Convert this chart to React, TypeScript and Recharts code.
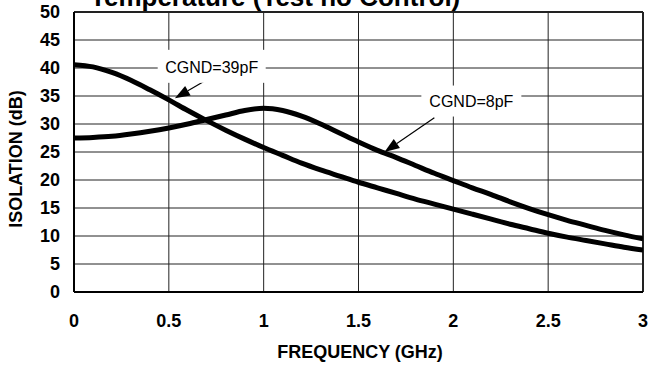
import React from 'react';
import {
  ComposedChart,
  Line,
  XAxis,
  YAxis,
  CartesianGrid,
  ReferenceLine,
  ReferenceDot,
  Customized,
} from 'recharts';

const freq = [0, 0.1, 0.2, 0.3, 0.4, 0.5, 0.6, 0.7, 0.8, 0.9, 1.0, 1.1, 1.2, 1.3, 1.4, 1.5, 1.6, 1.7, 1.8, 1.9, 2.0, 2.1, 2.2, 2.3, 2.4, 2.5, 2.6, 2.7, 2.8, 2.9, 3.0];
const cgnd39 = [40.6, 40.2, 39.2, 37.8, 36.1, 34.3, 32.4, 30.6, 28.9, 27.3, 25.8, 24.4, 23.0, 21.8, 20.7, 19.6, 18.6, 17.6, 16.6, 15.7, 14.8, 13.9, 13.0, 12.1, 11.3, 10.5, 9.8, 9.2, 8.6, 8.0, 7.5];
const cgnd8 = [27.5, 27.6, 27.8, 28.2, 28.7, 29.3, 30.0, 30.8, 31.6, 32.4, 32.8, 32.4, 31.4, 30.0, 28.4, 26.8, 25.3, 24.0, 22.6, 21.2, 19.9, 18.6, 17.4, 16.1, 14.9, 13.8, 12.8, 11.9, 11.0, 10.2, 9.5];

const xTicks = [0, 0.5, 1, 1.5, 2, 2.5, 3];
const yTicks = [0, 5, 10, 15, 20, 25, 30, 35, 40, 45, 50];

const titleText = 'Temperature (Test no Control)';
const xLabel = 'FREQUENCY (GHz)';
const yLabel = 'ISOLATION (dB)';

const labelTexts = ['CGND=39pF', 'CGND=8pF'];
const labelX = [0.726, 2.095];
const labelY = [40.3, 34.1];

const arrowFromX = [0.716, 1.9];
const arrowFromY = [38.2, 31.1];
const arrowToX = [0.532, 1.637];
const arrowToY = [34.6, 25.0];

const data = freq.map((f, i) => ({ f, c39: cgnd39[i], c8: cgnd8[i] }));

const FONT = "'Liberation Sans', Arial, Helvetica, sans-serif";

const boxW = [108, 100];
const boxH = [33, 31];

const Arrow = (props: any) => {
  const { x1, y1, x2, y2 } = props;
  if (x1 == null) return null;
  const dx = x2 - x1;
  const dy = y2 - y1;
  const len = Math.sqrt(dx * dx + dy * dy);
  const ux = dx / len;
  const uy = dy / len;
  const hl = 15;
  const hw = 5.5;
  const bx = x2 - ux * hl;
  const by = y2 - uy * hl;
  const px = -uy;
  const py = ux;
  return (
    <g>
      <line x1={x1} y1={y1} x2={bx} y2={by} stroke="#000" strokeWidth={1.2} />
      <polygon
        points={`${x2},${y2} ${bx + px * hw},${by + py * hw} ${bx - px * hw},${by - py * hw}`}
        fill="#000"
      />
    </g>
  );
};

const makeLabelShape = (i: number) => (props: any) => {
  const { cx, cy } = props;
  if (cx == null) return null;
  return (
    <g>
      <rect x={cx - boxW[i] / 2} y={cy - boxH[i] / 2} width={boxW[i]} height={boxH[i]} fill="#fff" />
      <text
        x={cx}
        y={cy + 2}
        textAnchor="middle"
        dominantBaseline="middle"
        fontFamily={FONT}
        fontSize={16}
        fill="#000"
      >
        {labelTexts[i]}
      </text>
    </g>
  );
};

const Texts = () => (
  <g>
    <text x={90} y={6} fontFamily={FONT} fontWeight="bold" fontSize={26} fill="#000">
      {titleText}
    </text>
    <text x={360} y={358} textAnchor="middle" fontFamily={FONT} fontWeight="bold" fontSize={18} fill="#000">
      {xLabel}
    </text>
    <text
      x={21.5}
      y={159}
      textAnchor="middle"
      transform="rotate(-90 21.5 159)"
      fontFamily={FONT}
      fontWeight="bold"
      fontSize={18}
      fill="#000"
    >
      {yLabel}
    </text>
  </g>
);

export default function App() {
  return (
    <div style={{ position: 'absolute', left: 0, top: 0, width: 651, height: 366, background: '#fff' }}>
      <ComposedChart
        width={651}
        height={366}
        data={data}
        margin={{ top: 12, right: 8, bottom: 0, left: 0 }}
      >
        <CartesianGrid stroke="#222" strokeWidth={1} vertical horizontal />
        <XAxis
          dataKey="f"
          type="number"
          domain={[0, 3]}
          ticks={xTicks}
          height={74}
          tickSize={0}
          tickMargin={22}
          axisLine={{ stroke: '#000', strokeWidth: 2 }}
          tickLine={false}
          tick={{ fill: '#000', fontFamily: FONT, fontWeight: 'bold', fontSize: 18 }}
          allowDataOverflow
        />
        <YAxis
          type="number"
          domain={[0, 50]}
          ticks={yTicks}
          width={74}
          tickSize={0}
          tickMargin={14}
          axisLine={{ stroke: '#000', strokeWidth: 2 }}
          tickLine={false}
          tick={{ fill: '#000', fontFamily: FONT, fontWeight: 'bold', fontSize: 18 }}
          interval={0}
          allowDataOverflow
        />
        <ReferenceLine y={50} stroke="#222" strokeWidth={2} />
        <ReferenceLine x={3} stroke="#222" strokeWidth={2} />
        {labelTexts.map((t, i) => (
          <ReferenceDot
            key={t}
            x={labelX[i]}
            y={labelY[i]}
            r={1}
            shape={makeLabelShape(i)}
            ifOverflow="visible"
          />
        ))}
        <Line type="monotone" dataKey="c39" stroke="#000" strokeWidth={5} dot={false} isAnimationActive={false} />
        <Line type="monotone" dataKey="c8" stroke="#000" strokeWidth={5} dot={false} isAnimationActive={false} />
        {arrowFromX.map((fx, i) => (
          <ReferenceLine
            key={'a' + i}
            segment={[
              { x: fx, y: arrowFromY[i] },
              { x: arrowToX[i], y: arrowToY[i] },
            ]}
            shape={Arrow}
            ifOverflow="visible"
          />
        ))}
        <Customized component={Texts} />
      </ComposedChart>
    </div>
  );
}
